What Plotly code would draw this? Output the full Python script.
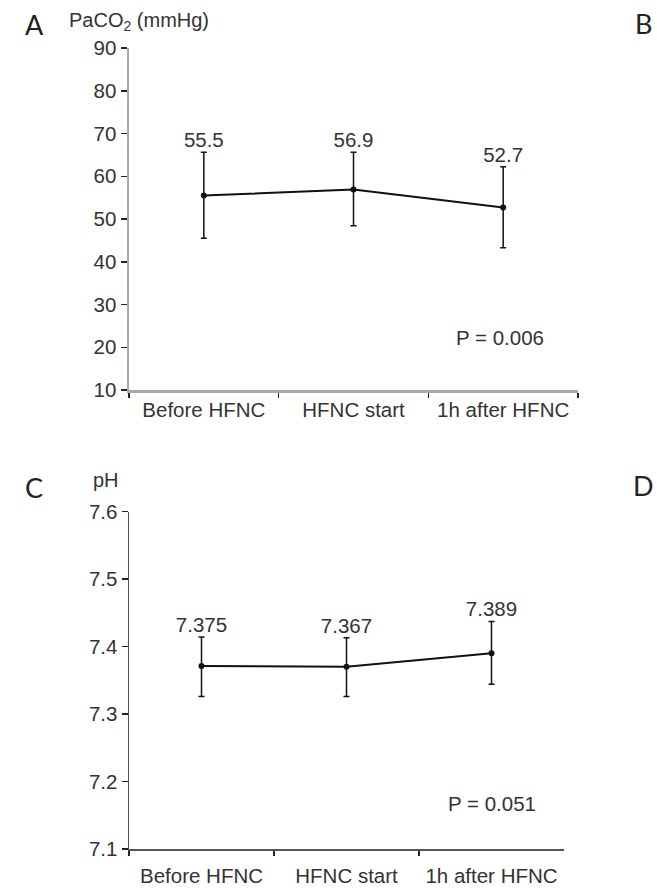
import plotly.graph_objects as go

W, H = 657, 888

categories = ["Before HFNC", "HFNC start", "1h after HFNC"]

# Panel A: PaCO2
paco2_mean = [55.5, 56.9, 52.7]
paco2_err_up = [10.1, 8.7, 9.5]
paco2_err_down = [10.0, 8.5, 9.4]
paco2_labels = ["55.5", "56.9", "52.7"]
paco2_ticks = [10, 20, 30, 40, 50, 60, 70, 80, 90]
paco2_p = "P = 0.006"

# Panel C: pH
ph_mean = [7.371, 7.370, 7.390]
ph_err_up = [0.043, 0.043, 0.047]
ph_err_down = [0.045, 0.044, 0.046]
ph_labels = ["7.375", "7.367", "7.389"]
ph_ticks = [7.1, 7.2, 7.3, 7.4, 7.5, 7.6]
ph_tick_text = ["7.1", "7.2", "7.3", "7.4", "7.5", "7.6"]
ph_p = "P = 0.051"

FONT = "Liberation Sans"
TXT = "#333333"
FS = 20.5

fig = go.Figure()

def add_panel(xa, ya, mean, up, down, labels):
    fig.add_trace(go.Scatter(
        x=categories, y=mean, mode="lines+markers",
        line=dict(color="#111111", width=2),
        marker=dict(color="#111111", size=6),
        error_y=dict(type="data", symmetric=False, array=up, arrayminus=down,
                     color="#111111", thickness=1.5, width=3),
        xaxis=xa, yaxis=ya, showlegend=False, hoverinfo="skip"))
    fig.add_trace(go.Scatter(
        x=categories, y=[m + u for m, u in zip(mean, up)], mode="text",
        text=labels, textposition="top center",
        textfont=dict(family=FONT, size=FS, color=TXT),
        xaxis=xa, yaxis=ya, showlegend=False, hoverinfo="skip"))

add_panel("x", "y", paco2_mean, paco2_err_up, paco2_err_down, paco2_labels)
add_panel("x2", "y2", ph_mean, ph_err_up, ph_err_down, ph_labels)

def px(v):
    return v / W

def py(v):
    return 1 - v / H

tickfont = dict(family=FONT, size=FS, color=TXT)

common = dict(showgrid=False, zeroline=False, tickfont=tickfont,
              fixedrange=True, automargin=False, ticks="outside",
              tickwidth=1.5, tickcolor="#222222", showline=True)

fig.update_layout(
    width=W, height=H, autosize=False,
    margin=dict(l=0, r=0, t=0, b=0, pad=0, autoexpand=False),
    paper_bgcolor="white", plot_bgcolor="white",
    xaxis=dict(domain=[px(129), px(578)], anchor="y", type="category",
               range=[-0.5, 2.5], tickson="boundaries", ticklen=5,
               linecolor="#a8a8a8", linewidth=2.5, **common),
    yaxis=dict(domain=[py(390), py(48)], anchor="x", range=[10, 90],
               tickvals=paco2_ticks, ticklen=6,
               linecolor="#a8a8a8", linewidth=2.5, **common),
    xaxis2=dict(domain=[px(129), px(564)], anchor="y2", type="category",
                range=[-0.5, 2.5], tickson="boundaries", ticklen=5,
                ticklabelstandoff=8,
                linecolor="#555555", linewidth=1.5, **common),
    yaxis2=dict(domain=[py(849), py(511.5)], anchor="x2", range=[7.1, 7.6],
                tickvals=ph_ticks, ticktext=ph_tick_text, ticklen=6,
                linecolor="#555555", linewidth=1.5, **common),
)

annots = [
    dict(text="A", x=px(23), y=py(25), xanchor="left", yanchor="middle",
         font=dict(family="Lato", size=27, color="#222222")),
    dict(text="B", x=px(654), y=py(24), xanchor="right", yanchor="middle",
         font=dict(family="Lato", size=27, color="#222222")),
    dict(text="C", x=px(23), y=py(487), xanchor="left", yanchor="middle",
         font=dict(family="Lato", size=27, color="#222222")),
    dict(text="D", x=px(656), y=py(485), xanchor="right", yanchor="middle",
         font=dict(family="Lato", size=27, color="#222222")),
    dict(text="PaCO<sub>2</sub> (mmHg)", x=px(67), y=py(21), xanchor="left",
         yanchor="middle", font=dict(family=FONT, size=20, color=TXT)),
    dict(text="pH", x=px(91), y=py(480), xanchor="left", yanchor="middle",
         font=dict(family=FONT, size=20, color=TXT)),
]
for a in annots:
    a.update(xref="paper", yref="paper", showarrow=False)
    fig.add_annotation(**a)

fig.add_annotation(text=paco2_p, xref="paper", yref="y", x=px(500), y=22.2,
                   xanchor="center", yanchor="middle",
                   showarrow=False, font=dict(family=FONT, size=FS, color=TXT))
fig.add_annotation(text=ph_p, xref="paper", yref="y2", x=px(492), y=7.168,
                   xanchor="center", yanchor="middle",
                   showarrow=False, font=dict(family=FONT, size=FS, color=TXT))

fig.write_html("out.html",
               config={"displayModeBar": False, "staticPlot": True},
               post_script="document.body.style.margin='0';")
